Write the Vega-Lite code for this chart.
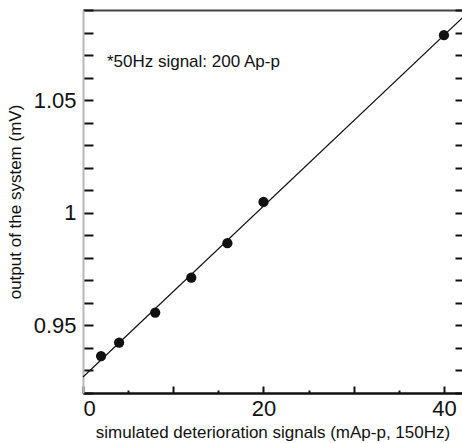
{
  "$schema": "https://vega.github.io/schema/vega-lite/v6.json",
  "width": 379,
  "height": 383,
  "autosize": {"type": "none"},
  "padding": {"left": 83, "top": 10, "right": 0, "bottom": 50},
  "background": "white",
  "config": {"font": "Liberation Sans", "view": {"stroke": null}},
  "datasets": {
    "points": [
      {"signal": 2, "output": 0.9364},
      {"signal": 4, "output": 0.9424},
      {"signal": 8, "output": 0.9557},
      {"signal": 12, "output": 0.9712},
      {"signal": 16, "output": 0.9865},
      {"signal": 20, "output": 1.0048},
      {"signal": 40, "output": 1.0788}
    ],
    "fit": [
      {"signal": 0, "output": 0.9271},
      {"signal": 42, "output": 1.0864}
    ],
    "note": [
      {"signal": 2.65, "output": 1.0667, "text": "*50Hz signal: 200 Ap-p"}
    ]
  },
  "resolve": {"axis": {"x": "independent", "y": "independent"}},
  "layer": [
    {
      "data": {"name": "points"},
      "mark": {"type": "circle", "size": 105, "color": "#111111", "opacity": 1},
      "encoding": {
        "x": {
          "field": "signal", "type": "quantitative",
          "scale": {"domain": [0, 42], "nice": false, "zero": false},
          "axis": {
            "orient": "bottom",
            "title": "simulated deterioration signals (mAp-p, 150Hz)",
            "titleFontSize": 17, "titleFontWeight": "normal", "titleColor": "#111",
            "titleY": 39, "titleBaseline": "middle",
            "values": [0, 10, 20, 30, 40],
            "labelExpr": "datum.value % 20 === 0 ? datum.label : ''",
            "labelFontSize": 22, "labelColor": "#111", "labelPadding": 12,
            "tickSize": -7, "tickWidth": 2, "tickColor": "#111",
            "domainColor": "#111", "domainWidth": 2.5, "grid": false
          }
        },
        "y": {
          "field": "output", "type": "quantitative",
          "scale": {"domain": [0.92, 1.09], "nice": false, "zero": false},
          "axis": {
            "orient": "left",
            "title": "output of the system (mV)",
            "titleFontSize": 17, "titleFontWeight": "normal", "titleColor": "#111",
            "titleX": -68, "titleY": 191.5, "titleAngle": -90, "titleBaseline": "middle", "titleAlign": "center",
            "values": [0.92, 0.93, 0.94, 0.95, 0.96, 0.97, 0.98, 0.99, 1.0, 1.01, 1.02, 1.03, 1.04, 1.05, 1.06, 1.07, 1.08, 1.09],
            "format": ".2~f",
            "labelExpr": "indexof(['0.95','1','1.05'], datum.label) >= 0 ? datum.label : ''",
            "labelFontSize": 22, "labelColor": "#111", "labelPadding": 17,
            "tickSize": -10, "tickWidth": 2, "tickColor": "#111",
            "domainColor": "#b8b8b8", "domainWidth": 2, "grid": false
          }
        }
      }
    },
    {
      "data": {"name": "fit"},
      "mark": {"type": "line", "color": "#111111", "strokeWidth": 1.2},
      "encoding": {
        "x": {
          "field": "signal", "type": "quantitative",
          "axis": {
            "orient": "bottom", "title": null, "labels": false, "domain": false,
            "values": [5, 15, 25, 35],
            "tickSize": -3, "tickWidth": 2, "tickColor": "#111", "grid": false
          }
        },
        "y": {
          "field": "output", "type": "quantitative",
          "axis": {
            "orient": "right", "title": null, "labels": false, "domain": false,
            "values": [0.92, 0.93, 0.94, 0.95, 0.96, 0.97, 0.98, 0.99, 1.0, 1.01, 1.02, 1.03, 1.04, 1.05, 1.06, 1.07, 1.08, 1.09],
            "tickSize": -7, "tickWidth": 2, "tickColor": "#111", "grid": false
          }
        }
      }
    },
    {
      "data": {"name": "note"},
      "mark": {"type": "text", "align": "left", "baseline": "middle", "fontSize": 17, "color": "#111"},
      "encoding": {
        "x": {
          "field": "signal", "type": "quantitative",
          "axis": {
            "orient": "top", "title": null, "labels": false, "ticks": false,
            "domainColor": "#444444", "domainWidth": 2, "grid": false
          }
        },
        "y": {"field": "output", "type": "quantitative", "axis": null},
        "text": {"field": "text"}
      }
    }
  ]
}
